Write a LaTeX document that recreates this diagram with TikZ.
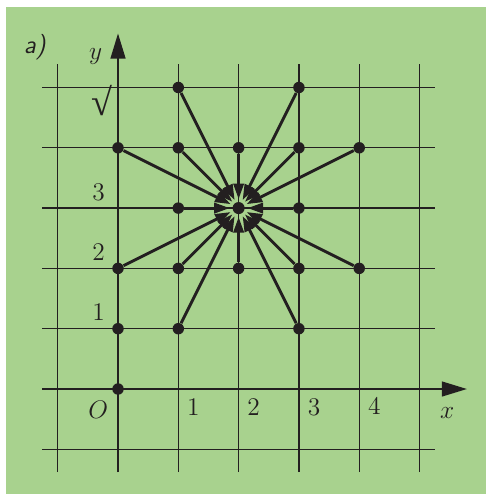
\documentclass[tikz,border=0pt]{standalone}
\usepackage{fontspec}
\newfontfamily\surdfont{Liberation Serif}
\usetikzlibrary{arrows.meta}
\definecolor{bggreen}{RGB}{168,210,142}
\definecolor{ink}{RGB}{35,31,32}
\begin{document}
\begin{tikzpicture}[x=1cm,y=1cm,
  gridline/.style={ink,line width=0.6pt},
  axisline/.style={ink,line width=1.4pt,-{Triangle[length=0.42cm,width=0.24cm]}},
  dotpt/.style={circle,fill=ink,inner sep=0pt,minimum size=0.19cm},
  hub/.style={circle,fill=ink,inner sep=0pt,minimum size=0.2cm},
  ray/.style={ink,line width=1.35pt,-{Triangle[length=0.26cm,width=0.17cm]},shorten >=0.04cm},
  lbl/.style={ink,font=\fontsize{11.5}{13}\selectfont,inner sep=0pt}]
\useasboundingbox (-1.957,-1.741) rectangle (6.104,6.451);
\fill[white] (-1.957,-1.741) rectangle (6.104,6.451);
\fill[bggreen] (-1.857,-1.741) rectangle (6.104,6.335);
% grid
\foreach \i in {-1,...,5}{
  \draw[gridline] (\i,-1.38) -- (\i,5.39);
  \draw[gridline] (-1.26,\i) -- (5.26,\i);
}
% axes
\coordinate (xs) at (-1.26,0);
\coordinate (xe) at (5.79,0);
\coordinate (ys) at (0,-1.38);
\coordinate (ye) at (0,5.9);
\draw[axisline] (xs) -- (xe);
\draw[axisline] (ys) -- (ye);
% points
\node[hub] (c) at (2,3) {};
\foreach \n/\x/\y in {p15/1/5,p35/3/5,p04/0/4,p14/1/4,p24/2/4,p34/3/4,p44/4/4,
  p13/1/3,p33/3/3,p02/0/2,p12/1/2,p22/2/2,p32/3/2,p42/4/2,p11/1/1,p31/3/1}{
  \node[dotpt] (\n) at (\x,\y) {};
  \draw[ray] (\n) -- (c);
}
\node[dotpt] (p01) at (0,1) {};
\node[dotpt] (o) at (0,0) {};
% labels
\node[lbl,font=\fontsize{12}{14}\sffamily\itshape] (la) at (-1.38,5.67) {a)};
\node[lbl] (ly) at (-0.37,5.51) {$y$};
\node[lbl,font=\fontsize{18}{19}\surdfont\bfseries] (l4) at (-0.27,4.78) {√};
\node[lbl] (l3) at (-0.32,3.26) {$3$};
\node[lbl] (l2) at (-0.32,2.26) {$2$};
\node[lbl] (l1) at (-0.32,1.27) {$1$};
\node[lbl] (lo) at (-0.33,-0.35) {$O$};
\node[lbl] (lx1) at (1.25,-0.3) {$1$};
\node[lbl] (lx2) at (2.25,-0.3) {$2$};
\node[lbl] (lx3) at (3.25,-0.3) {$3$};
\node[lbl] (lx4) at (4.25,-0.28) {$4$};
\node[lbl] (lx) at (5.46,-0.4) {$x$};
\end{tikzpicture}
\end{document}
